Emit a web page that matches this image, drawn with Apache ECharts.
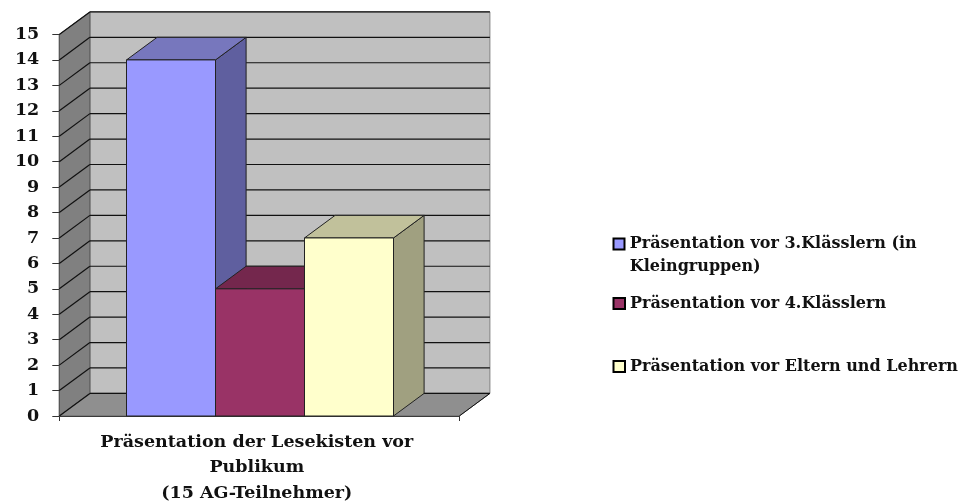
<!DOCTYPE html>
<html>
<head>
<meta charset="utf-8">
<style>html,body{margin:0;padding:0;background:#fff}#chart{width:965px;height:504px}</style>
<script src="https://cdn.jsdelivr.net/npm/echarts@6/dist/echarts.min.js"></script>
</head>
<body>
<div id="chart"></div>
<script>
var categories = ['Präsentation der Lesekisten vor\nPublikum\n(15 AG-Teilnehmer)'];
var seriesNames = ['Präsentation vor 3.Klässlern (in\nKleingruppen)', 'Präsentation vor 4.Klässlern', 'Präsentation vor Eltern und Lehrern'];
var seriesValues = [14, 5, 7];
var yTicks = [0, 1, 2, 3, 4, 5, 6, 7, 8, 9, 10, 11, 12, 13, 14, 15];
var frontColors = ['#9999FF', '#993366', '#FFFFCC'];
var topColors = ['#7777BD', '#74274D', '#C1C19B'];
var sideColors = ['#5F5F9F', '#5F2040', '#A0A080'];

// Tiefe der 3D-Darstellung in Pixel
var DX = 30.6, DY = 22.6;
var BAR_RATIO = 0.2225;
var FONT = '"DejaVu Serif"';

function poly(points, fill, stroke, width) {
    return {
        type: 'polygon',
        shape: {points: points},
        style: {fill: fill, stroke: stroke, lineWidth: width === undefined ? 1 : width}
    };
}

function line(x1, y1, x2, y2, color, width) {
    return {
        type: 'line',
        shape: {x1: x1, y1: y1, x2: x2, y2: y2},
        style: {stroke: color, lineWidth: width || 1.2}
    };
}

// Rueckwand, Seitenwand, Boden
function renderWalls(params, api) {
    var cs = params.coordSys;
    var l = cs.x, r = cs.x + cs.width;
    var y0 = api.coord([0, 0])[1], yT = api.coord([0, 15])[1];
    return {
        type: 'group',
        children: [
            poly([[l + DX, yT - DY], [r + DX, yT - DY], [r + DX, y0 - DY], [l + DX, y0 - DY]], '#C0C0C0', '#808080'),
            poly([[l, yT], [l + DX, yT - DY], [l + DX, y0 - DY], [l, y0]], '#808080', '#555555'),
            poly([[l, y0], [l + DX, y0 - DY], [r + DX, y0 - DY], [r, y0]], '#8F8F8F', '#666666'),
            line(r, y0, r + DX, y0 - DY, '#111', 1)
        ]
    };
}

// Gitterlinien auf Rueckwand und Seitenwand
function renderGrid(params, api) {
    var cs = params.coordSys;
    var l = cs.x, r = cs.x + cs.width;
    var y = api.coord([0, api.value(0)])[1];
    return {
        type: 'group',
        children: [
            line(l, y, l + DX, y - DY, '#111'),
            line(l + DX, y - DY, r + DX, y - DY, '#111')
        ]
    };
}

function renderBar(i) {
    return function (params, api) {
        var p = api.coord([0, api.value(1)]);
        var base = api.coord([0, 0]);
        var w = api.size([1, 0])[0] * BAR_RATIO;
        var x = p[0] + (i - 1.5) * w + 0.7;
        var xr = x + w;
        return {
            type: 'group',
            children: [
                poly([[xr, p[1]], [xr + DX, p[1] - DY], [xr + DX, base[1] - DY], [xr, base[1]]], sideColors[i], '#222'),
                poly([[x, p[1]], [x + DX, p[1] - DY], [xr + DX, p[1] - DY], [xr, p[1]]], topColors[i], '#222'),
                poly([[x, p[1]], [xr, p[1]], [xr, base[1]], [x, base[1]]], frontColors[i], '#222')
            ]
        };
    };
}

var series = [
    {type: 'custom', silent: true, renderItem: renderWalls, data: [[0]], z: 1},
    {type: 'custom', silent: true, renderItem: renderGrid, data: yTicks.map(function (t) { return [t]; }), z: 2}
];
seriesValues.forEach(function (v, i) {
    series.push({
        type: 'custom',
        name: seriesNames[i],
        silent: true,
        renderItem: renderBar(i),
        itemStyle: {color: frontColors[i]},
        data: [[0, v]],
        z: 3 + i
    });
});

// Beim zweizeiligen Eintrag sitzt das Kaestchen auf Hoehe der ersten Zeile
var legendTops = [232.5, 292, 355];
var legends = seriesNames.map(function (name, i) {
    return {
        orient: 'vertical',
        left: 612.5,
        top: legendTops[i],
        padding: 0,
        itemWidth: 11.5,
        itemHeight: i === 0 ? 34 : 11,
        itemGap: 0,
        selectedMode: false,
        icon: i === 0 ? 'path://M0 0H11V11H0Z M0 34L0 34Z' : 'rect',
        itemStyle: {borderColor: '#000', borderWidth: 2},
        textStyle: {
            fontFamily: FONT, fontWeight: 'bold', fontSize: 16, color: '#111',
            lineHeight: 23
        },
        data: [name]
    };
});

var chart = echarts.init(document.getElementById('chart'));
chart.setOption({
    animation: false,
    backgroundColor: '#fff',
    grid: {left: 59.3, top: 34.5, width: 400, height: 381.5, outerBoundsMode: 'none'},
    legend: legends,
    xAxis: {
        type: 'category',
        data: categories,
        axisLine: {lineStyle: {color: '#111', width: 1.2}},
        axisTick: {show: true, length: 5, lineStyle: {color: '#333'}},
        axisLabel: {
            fontFamily: FONT, fontWeight: 'bold', fontSize: 17.5, color: '#111',
            lineHeight: 25.5, margin: 13.5, interval: 0, padding: [0, 5, 0, 0]
        }
    },
    yAxis: {
        type: 'value',
        min: 0,
        max: 15,
        interval: 1,
        splitLine: {show: false},
        axisLine: {show: true, lineStyle: {color: '#111', width: 1.2}},
        axisTick: {show: true, length: 7, lineStyle: {color: '#333'}},
        axisLabel: {fontFamily: FONT, fontWeight: 'bold', fontSize: 17.5, color: '#111', margin: 20}
    },
    series: series
});
</script>
</body>
</html>
